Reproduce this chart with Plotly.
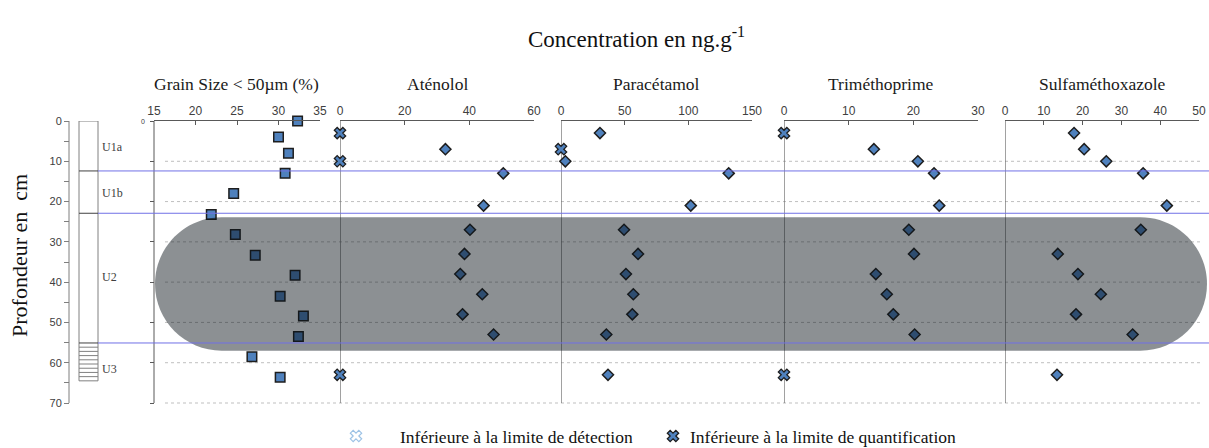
import plotly.graph_objects as go

# ---------------- data ----------------
grain_depth = [0, 4, 8, 13, 18, 23.2, 28.2, 33.3, 38.3, 43.5, 48.4, 53.5, 58.5, 63.6]
grain_pct = [32.3, 30.0, 31.2, 30.8, 24.6, 21.9, 24.8, 27.2, 32.0, 30.2, 33.0, 32.4, 26.8, 30.2]

conc_depth = [3, 7, 10, 13, 21, 27, 33, 38, 43, 48, 53, 63]
# None = below the limit of quantification (drawn as a cross at 0)
atenolol = [None, 32.6, None, 50.5, 44.4, 40.2, 38.5, 37.2, 44.0, 37.9, 47.5, None]
paracetamol = [30.6, None, 3.4, 131.7, 101.9, 49.5, 60.5, 51.0, 56.8, 56.0, 35.6, 36.9]
trimethoprime = [None, 13.9, 20.7, 23.2, 24.0, 19.3, 20.1, 14.2, 15.9, 16.9, 20.2, None]
sulfamethoxazole = [17.8, 20.4, 26.1, 35.6, 41.7, 35.0, 13.6, 18.8, 24.7, 18.3, 32.9, 13.4]

compound_names = ["Aténolol", "Paracétamol", "Triméthoprime", "Sulfaméthoxazole"]
compound_values = [atenolol, paracetamol, trimethoprime, sulfamethoxazole]
compound_ranges = [[0, 60], [0, 150], [0, 30], [0, 50]]
compound_dticks = [20, 50, 10, 10]

depth_ticks = [0, 10, 20, 30, 40, 50, 60, 70]
depth_minor = [5, 15, 25, 35, 45, 55, 65]

units = ["U1a", "U1b", "U2", "U3"]
unit_top = [0, 12.4, 22.9, 55.1]
unit_bottom = [12.4, 22.9, 55.1, 64.5]
unit_label_depth = [6.5, 17.9, 38.7, 61.5]
u3_hatch_count = 9

zone_top, zone_bottom = 23.9, 57.0
grid_depths = [10, 20, 30, 40, 50, 60, 70]

legend_labels = ["Inférieure à la limite de détection", "Inférieure à la limite de quantification"]

# ---------------- layout geometry ----------------
W, H = 1209, 448
ML, MT, MR, MB = 69, 121, 0, 0
PW, PH = W - ML - MR, H - MT - MB
DEPTH_MAX = 70
DEPTH_PX = 282 / DEPTH_MAX          # pixels per cm of depth
Y_BOTTOM = PH / DEPTH_PX            # depth value at the bottom of the figure


def px(x):
    return (x - ML) / PW


def py(y):
    return (H - MB - y) / PH


def depth_at(pyy):
    return (pyy - MT) / DEPTH_PX


panel_px = [(154, 320), (340, 534), (561, 752), (784, 978), (1005, 1199)]

SERIF = "Liberation Serif"
SANS = "Liberation Sans"
BLUE = "#4f81bd"
EDGE = "#1e1e1e"
AXC = "#595959"

fig = go.Figure()

# grain size
fig.add_trace(go.Scatter(
    x=grain_pct, y=grain_depth, xaxis="x", yaxis="y", mode="markers",
    marker=dict(symbol="square", size=9.5, color=BLUE, line=dict(color=EDGE, width=1.5)),
    cliponaxis=False, showlegend=False))

for i, vals in enumerate(compound_values):
    xa = "x%d" % (i + 2)
    qx = [v for v in vals if v is not None]
    qy = [d for d, v in zip(conc_depth, vals) if v is not None]
    lx = [0 for v in vals if v is None]
    ly = [d for d, v in zip(conc_depth, vals) if v is None]
    fig.add_trace(go.Scatter(
        x=qx, y=qy, xaxis=xa, yaxis="y", mode="markers",
        marker=dict(symbol="diamond", size=8.5, color=BLUE, line=dict(color=EDGE, width=1.5)),
        cliponaxis=False, showlegend=False))
    if lx:
        fig.add_trace(go.Scatter(
            x=lx, y=ly, xaxis=xa, yaxis="y", mode="markers",
            marker=dict(symbol="x", size=10, color=BLUE, line=dict(color=EDGE, width=1.3)),
            cliponaxis=False, showlegend=False))

# legend keys on a hidden pixel-scaled x axis
fig.add_trace(go.Scatter(
    x=[356], y=[depth_at(436)], xaxis="x6", yaxis="y", mode="markers",
    marker=dict(symbol="x-open", size=10, color="#9dc3e6", line=dict(color="#9dc3e6", width=1.2)),
    cliponaxis=False, showlegend=False, hoverinfo="skip"))
fig.add_trace(go.Scatter(
    x=[673], y=[depth_at(436)], xaxis="x6", yaxis="y", mode="markers",
    marker=dict(symbol="x", size=10, color=BLUE, line=dict(color=EDGE, width=1.3)),
    cliponaxis=False, showlegend=False, hoverinfo="skip"))

# ---------------- axes ----------------
common_x = dict(side="top", anchor="y", showline=True, linecolor=AXC, linewidth=1,
                ticks="inside", ticklen=4, tickcolor=AXC, showgrid=False, zeroline=False,
                automargin=False,
                tickfont=dict(family=SANS, size=12, color="#404040"), fixedrange=True)
layout = dict(
    width=W, height=H, autosize=False, margin=dict(l=ML, r=MR, t=MT, b=MB, pad=0),
    paper_bgcolor="white", plot_bgcolor="rgba(0,0,0,0)", showlegend=False,
    xaxis=dict(domain=[px(panel_px[0][0]), px(panel_px[0][1])], range=[15, 35], dtick=5, **common_x),
    yaxis=dict(range=[Y_BOTTOM, 0], anchor="free", position=0, showline=False,
               ticks="outside", ticklen=5, tickcolor="#7f7f7f", tickvals=depth_ticks, showgrid=False,
               zeroline=False, automargin=False, tickfont=dict(family=SANS, size=11, color="#404040"),
               minor=dict(tickvals=depth_minor, ticks="outside", ticklen=5, tickcolor="#7f7f7f"),
               fixedrange=True),
    yaxis2=dict(range=[Y_BOTTOM, 0], overlaying="y", anchor="free", position=px(panel_px[0][0]),
                showline=False, ticks="outside", ticklen=4, tickcolor=AXC, automargin=False,
                tickvals=depth_ticks, showticklabels=False, showgrid=False, zeroline=False,
                fixedrange=True),
    xaxis6=dict(domain=[0, 1], range=[ML, W], anchor="y", visible=False, automargin=False,
                fixedrange=True),
)
for i in range(4):
    a, b = panel_px[i + 1]
    layout["xaxis%d" % (i + 2)] = dict(domain=[px(a), px(b)], range=compound_ranges[i],
                                       dtick=compound_dticks[i], **common_x)
fig.update_layout(**layout)
# dummy (invisible) trace so the grain-size depth axis is drawn
fig.add_trace(go.Scatter(x=[None], y=[None], xaxis="x", yaxis="y2", showlegend=False,
                         hoverinfo="skip"))

# ---------------- shapes ----------------
shapes = []
# depth axis lines
shapes.append(dict(type="line", xref="paper", yref="y", x0=0, x1=0, y0=0, y1=DEPTH_MAX,
                   line=dict(color="#7f7f7f", width=1), layer="below"))
shapes.append(dict(type="line", xref="paper", yref="y", x0=px(panel_px[0][0]), x1=px(panel_px[0][0]),
                   y0=0, y1=DEPTH_MAX, line=dict(color=AXC, width=1), layer="below"))
for d in grid_depths:
    shapes.append(dict(type="line", xref="paper", yref="y", x0=px(165), x1=px(1203), y0=d, y1=d,
                       line=dict(color="#bfbfbf", width=1, dash="dot"), layer="below"))
# zero lines of concentration panels
for i in range(4):
    shapes.append(dict(type="line", xref="x%d" % (i + 2), yref="y", x0=0, x1=0, y0=0, y1=DEPTH_MAX,
                       line=dict(color="#6e6e6e", width=1.3), layer="below"))
# lithology column
cx0, cx1 = px(79), px(98)
shapes.append(dict(type="rect", xref="paper", yref="y", x0=cx0, x1=cx1, y0=unit_top[0], y1=unit_bottom[-1],
                   line=dict(color="#808080", width=1), fillcolor="rgba(0,0,0,0)", layer="below"))
for b in unit_bottom[:-1]:
    shapes.append(dict(type="line", xref="paper", yref="y", x0=cx0, x1=cx1, y0=b, y1=b,
                       line=dict(color="#404040", width=1), layer="below"))
step = (unit_bottom[3] - unit_top[3]) / u3_hatch_count
for k in range(1, u3_hatch_count):
    d = unit_top[3] + k * step
    shapes.append(dict(type="line", xref="paper", yref="y", x0=cx0, x1=cx1, y0=d, y1=d,
                       line=dict(color="#808080", width=1), layer="below"))

# highlighted zone (rounded band)
yc = (zone_top + zone_bottom) / 2
ry = (zone_bottom - zone_top) / 2
r_px = ry * DEPTH_PX
rx = r_px / PW
xl, xr = px(155), px(1207)
k = 0.5523
path = (f"M {xl+rx},{zone_top} L {xr-rx},{zone_top} "
        f"C {xr-rx+k*rx},{zone_top} {xr},{yc-k*ry} {xr},{yc} "
        f"C {xr},{yc+k*ry} {xr-rx+k*rx},{zone_bottom} {xr-rx},{zone_bottom} "
        f"L {xl+rx},{zone_bottom} "
        f"C {xl+rx-k*rx},{zone_bottom} {xl},{yc+k*ry} {xl},{yc} "
        f"C {xl},{yc-k*ry} {xl+rx-k*rx},{zone_top} {xl+rx},{zone_top} Z")
shapes.append(dict(type="path", xref="paper", yref="y", path=path, fillcolor="rgb(10,20,25)",
                   opacity=0.47, line=dict(width=0), layer="above"))
# unit boundaries
for b in unit_bottom[:-1]:
    shapes.append(dict(type="line", xref="paper", yref="y", x0=cx1, x1=1, y0=b, y1=b,
                       line=dict(color="#7070e6", width=1), layer="above"))
fig.update_layout(shapes=shapes)

# ---------------- annotations ----------------
ann = []
ann.append(dict(text="Concentration en ng.g<sup>-1</sup>", xref="paper", yref="paper",
                x=px(636), y=py(38), showarrow=False, xanchor="center", yanchor="middle",
                font=dict(family=SERIF, size=23, color="#111111")))
ann.append(dict(text="Profondeur en\u00a0 cm", xref="paper", yref="paper", x=px(19), y=py(256),
                showarrow=False, textangle=-90, xanchor="center", yanchor="middle",
                font=dict(family=SERIF, size=22, color="#111111")))
titles = ["Grain Size < 50µm (%)"] + compound_names
for i, t in enumerate(titles):
    a, b = panel_px[i]
    ann.append(dict(text=t, xref="paper", yref="paper", x=px((a + b) / 2), y=py(84), showarrow=False,
                    xanchor="center", yanchor="middle", font=dict(family=SERIF, size=17.5, color="#1a1a1a")))
ann.append(dict(text="0", xref="paper", yref="y", x=px(147), y=0, showarrow=False, xanchor="right",
                yanchor="middle", font=dict(family=SANS, size=7, color="#404040")))
for u, d in zip(units, unit_label_depth):
    ann.append(dict(text=u, xref="paper", yref="y", x=px(100), y=d, showarrow=False, xanchor="left",
                    yanchor="middle", font=dict(family=SERIF, size=12, color="#404040")))
for lab, xp in zip(legend_labels, [398, 688]):
    ann.append(dict(text=lab, xref="paper", yref="paper", x=px(xp), y=py(437), showarrow=False,
                    xanchor="left", yanchor="middle", font=dict(family=SERIF, size=17.5, color="#111111")))
fig.update_layout(annotations=ann)

fig.write_html("out.html", config={"displayModeBar": False, "responsive": False},
               post_script="document.body.style.margin='0';document.body.style.overflow='hidden';")
